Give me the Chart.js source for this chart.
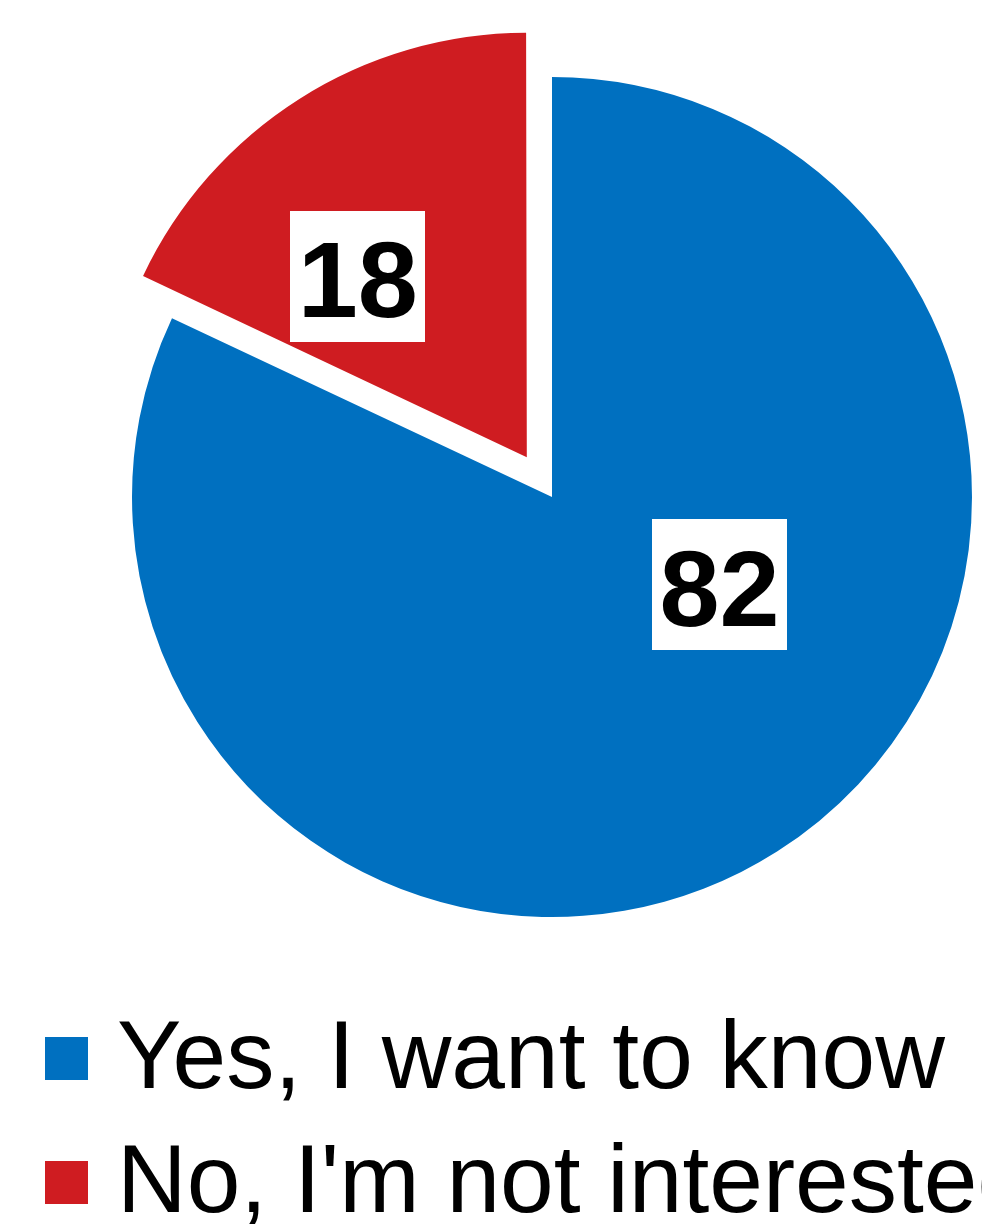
<!DOCTYPE html>
<html>
<head>
<meta charset="utf-8">
<script src="https://cdn.jsdelivr.net/npm/chart.js@4/dist/chart.umd.min.js"></script>
<style>
  html, body {
    margin: 0;
    padding: 0;
    background: #ffffff;
    overflow: hidden;
    width: 982px;
    height: 1224px;
  }
  #wrap {
    position: relative;
    width: 982px;
    height: 1224px;
    overflow: hidden;
  }
  #myChart {
    position: absolute;
    left: 0;
    top: 0;
  }
  #legend {
    position: absolute;
    left: 0;
    top: 993px;
    font-family: "Liberation Sans", Arial, sans-serif;
    font-size: 96.5px;
    line-height: 124px;
    color: #000000;
    white-space: nowrap;
  }
  .row {
    position: relative;
    height: 124px;
  }
  .box {
    position: absolute;
    left: 45px;
    top: 44px;
    width: 43px;
    height: 43px;
  }
  .txt {
    position: absolute;
    left: 117px;
    top: 0;
  }
</style>
</head>
<body>
<div id="wrap">
  <canvas id="myChart" width="1104" height="994"></canvas>
  <div id="legend"></div>
</div>

<script>
var answers = ["Yes, I want to know", "No, I'm not interested"];
var percents = [82, 18];
var sliceColors = ["#0070C0", "#CF1C21"];

// the "No" slice is pulled out of the pie
var sliceOffsets = [0, 188];

// where each value box sits: angle in degrees from the slice tip, and distance as part of the radius
var labelSpots = [
  { angle: 27.6, dist: 0.45 },
  { angle: -133, dist: 0.59 }
];

var valueBoxes = {
  id: "valueBoxes",
  afterDatasetsDraw: function(chart) {

    var ctx = chart.ctx;
    var meta = chart.getDatasetMeta(0);
    var values = chart.data.datasets[0].data;

    ctx.save();
    ctx.font = "bold 108px 'Liberation Sans', Arial, sans-serif";
    ctx.textAlign = "center";
    ctx.textBaseline = "alphabetic";

    for (var i = 0; i < meta.data.length; i++) {

      var arc = meta.data[i];
      var mid = (arc.startAngle + arc.endAngle) / 2;
      var shift = (arc.options.offset || 0) / 4;

      var tipX = arc.x + Math.cos(mid) * shift;
      var tipY = arc.y + Math.sin(mid) * shift;

      var a = labelSpots[i].angle * Math.PI / 180;
      var r = arc.outerRadius * labelSpots[i].dist;

      var cx = tipX + Math.cos(a) * r;
      var cy = tipY + Math.sin(a) * r;

      var text = String(values[i]);
      var w = 135;
      var h = 131;

      ctx.fillStyle = "#ffffff";
      ctx.fillRect(Math.round(cx - w / 2), Math.round(cy - h / 2), w, h);

      ctx.fillStyle = "#000000";
      ctx.fillText(text, cx, cy + 41);
    }

    ctx.restore();
  }
};

function buildLegend(chart) {

  var legend = document.getElementById("legend");
  legend.innerHTML = "";

  var labels = chart.data.labels;
  var colors = chart.data.datasets[0].backgroundColor;

  for (var i = 0; i < labels.length; i++) {

    var row = document.createElement("div");
    row.className = "row";

    var box = document.createElement("span");
    box.className = "box";
    box.style.background = colors[i];

    var txt = document.createElement("span");
    txt.className = "txt";
    txt.textContent = labels[i];

    row.appendChild(box);
    row.appendChild(txt);
    legend.appendChild(row);
  }
}

function init() {

  var ctx = document.getElementById("myChart");
  var myChart = new Chart(ctx, {
    type: "pie",
    data: {
      labels: answers,
      datasets: [
        {
          data: percents,
          backgroundColor: sliceColors,
          offset: sliceOffsets,
          borderWidth: 0,
          radius: 420
        }
      ]
    },
    options: {
      responsive: false,
      animation: false,
      layout: { padding: 0 },
      plugins: {
        legend: { display: false },
        tooltip: { enabled: false }
      }
    },
    plugins: [valueBoxes]
  });

  buildLegend(myChart);
}

init();
</script>
</body>
</html>
